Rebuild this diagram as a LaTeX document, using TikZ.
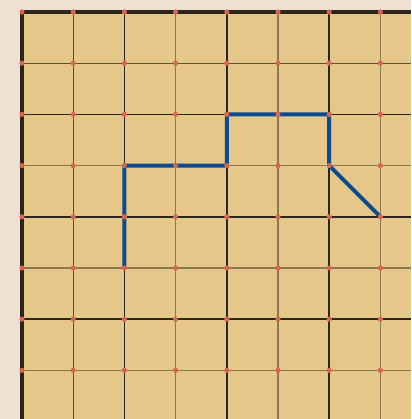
\documentclass[tikz,border=0pt]{standalone}
\definecolor{bgc}{HTML}{EEE0D3}
\definecolor{boardc}{HTML}{E5C78A}
\definecolor{darkc}{HTML}{2A241C}
\definecolor{midc}{HTML}{5E4E34}
\definecolor{lightc}{HTML}{8C7752}
\definecolor{dotc}{HTML}{D8654E}
\definecolor{routec}{HTML}{0B4A8E}
\tikzset{
  border/.style={line width=3.6pt, darkc},
  majorline/.style={line width=1.6pt, darkc},
  firstline/.style={line width=1.2pt, midc},
  minorline/.style={line width=1.1pt, lightc},
  route/.style={line width=4pt, routec, line join=miter},
  gdot/.style={fill=dotc}
}
\begin{document}
\begin{tikzpicture}[x=1pt,y=-1pt]
\fill[bgc] (0,0) rectangle (411,419);
\useasboundingbox (0,0) rectangle (411,419);
\fill[boardc] (20,10) rectangle (411,419);
% grid points
\foreach \i in {0,...,7}{
  \foreach \j in {0,...,7}{
    \coordinate (p-\i-\j) at ({22+51.2*\i},{12+51.2*\j});
  }
  \coordinate (t-\i) at ({22+51.2*\i},10);
  \coordinate (b-\i) at ({22+51.2*\i},419);
  \coordinate (l-\i) at (20,{12+51.2*\i});
  \coordinate (r-\i) at (411,{12+51.2*\i});
}
% grid lines
\foreach \i in {3,5,7}{
  \draw[minorline] (t-\i) -- (b-\i);
  \draw[minorline] (l-\i) -- (r-\i);
}
\draw[firstline] (t-1) -- (b-1);
\draw[firstline] (l-1) -- (r-1);
\foreach \i in {2,4,6}{
  \draw[majorline] (t-\i) -- (b-\i);
  \draw[majorline] (l-\i) -- (r-\i);
}
% border
\draw[border] (r-0) -- (p-0-0) -- (b-0);
% route
\draw[route] (p-2-5) -- (p-2-3) -- (p-4-3) -- (p-4-2) -- (p-6-2) -- (p-6-3) -- (p-7-4);
% dots
\foreach \i in {0,...,7}{
  \foreach \j in {0,...,7}{
    \fill[gdot] (p-\i-\j) circle (2.6);
  }
}
\end{tikzpicture}
\end{document}
